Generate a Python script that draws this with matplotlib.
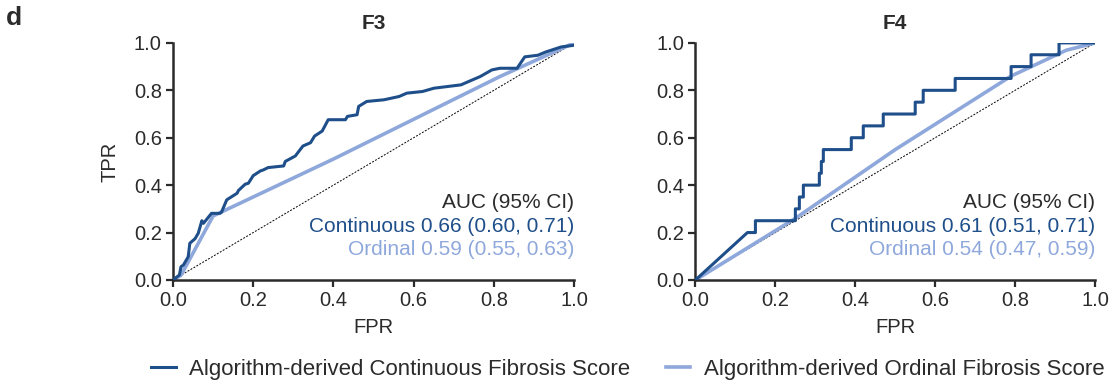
"""ROC curves for F3 / F4 detection: continuous vs ordinal fibrosis score."""

import matplotlib
matplotlib.use("Agg")
import matplotlib.pyplot as plt

plt.rcParams["font.family"] = ["Liberation Sans", "DejaVu Sans"]

DARK = "#1f4f8a"
LIGHT = "#8fa8dc"
TEXT = "#2b2b2b"

# F3 continuous
f3_cont_fpr = [0.0, 0.016, 0.02, 0.026, 0.038, 0.042, 0.055, 0.063, 0.072, 0.076,
               0.096, 0.117, 0.121, 0.134, 0.16, 0.163, 0.18, 0.188, 0.2, 0.218,
               0.225, 0.237, 0.276, 0.28, 0.305, 0.324, 0.343, 0.353, 0.372,
               0.387, 0.43, 0.435, 0.459, 0.463, 0.483, 0.526, 0.564, 0.583,
               0.622, 0.651, 0.718, 0.737, 0.766, 0.795, 0.815, 0.858, 0.877,
               0.91, 0.93, 0.968, 1.0]
f3_cont_tpr = [0.0, 0.021, 0.056, 0.063, 0.098, 0.155, 0.174, 0.197, 0.25, 0.239,
               0.281, 0.281, 0.286, 0.338, 0.366, 0.377, 0.404, 0.408, 0.44, 0.46,
               0.464, 0.474, 0.481, 0.50, 0.523, 0.565, 0.579, 0.607, 0.628,
               0.676, 0.676, 0.69, 0.697, 0.732, 0.753, 0.76, 0.774, 0.788,
               0.795, 0.809, 0.823, 0.837, 0.858, 0.886, 0.893, 0.893, 0.941,
               0.948, 0.962, 0.983, 0.99]

# F3 ordinal
f3_ord_fpr = [0.0, 0.02, 0.1, 0.4, 0.815, 1.0]
f3_ord_tpr = [0.0, 0.02, 0.27, 0.51, 0.858, 1.0]

# F4 continuous (stepped)
f4_cont_fpr = [0.0, 0.13, 0.15, 0.15, 0.25, 0.25, 0.26, 0.26, 0.27, 0.27, 0.31,
               0.31, 0.315, 0.315, 0.32, 0.32, 0.39, 0.39, 0.42, 0.42, 0.47,
               0.47, 0.55, 0.55, 0.57, 0.57, 0.65, 0.65, 0.79, 0.79, 0.84, 0.84,
               0.91, 0.91, 1.0]
f4_cont_tpr = [0.0, 0.2, 0.2, 0.25, 0.25, 0.3, 0.3, 0.35, 0.35, 0.4, 0.4, 0.45,
               0.45, 0.5, 0.5, 0.55, 0.55, 0.6, 0.6, 0.65, 0.65, 0.7, 0.7, 0.75,
               0.75, 0.8, 0.8, 0.85, 0.85, 0.9, 0.9, 0.95, 0.95, 1.0, 1.0]

# F4 ordinal
f4_ord_fpr = [0.0, 0.25, 0.5, 0.79, 0.928, 1.0]
f4_ord_tpr = [0.0, 0.26, 0.55, 0.86, 0.969, 1.0]

panels = [
    ("F3", f3_cont_fpr, f3_cont_tpr, f3_ord_fpr, f3_ord_tpr,
     "Continuous 0.66 (0.60, 0.71)", "Ordinal 0.59 (0.55, 0.63)"),
    ("F4", f4_cont_fpr, f4_cont_tpr, f4_ord_fpr, f4_ord_tpr,
     "Continuous 0.61 (0.51, 0.71)", "Ordinal 0.54 (0.47, 0.59)"),
]
ticks = [0.0, 0.2, 0.4, 0.6, 0.8, 1.0]

fig = plt.figure(figsize=(11.11, 3.83), dpi=100)
axes = [fig.add_axes([0.1557, 0.269, 0.361, 0.619]),
        fig.add_axes([0.626, 0.269, 0.3596, 0.619])]

for i, (ax, (title, cx, cy, ox, oy, ctext, otext)) in enumerate(zip(axes, panels)):
    ax.plot([0, 1], [0, 1], color="black", lw=0.7, ls=(0, (2, 1.5)), zorder=1)
    ax.plot(ox, oy, color=LIGHT, lw=2.6, zorder=2,
            label="Algorithm-derived Ordinal Fibrosis Score")
    ax.plot(cx, cy, color=DARK, lw=2.2, zorder=3,
            label="Algorithm-derived Continuous Fibrosis Score")
    ax.set_xlim(0, 1.0)
    ax.set_ylim(0, 1.0)
    ax.set_xticks(ticks)
    ax.set_yticks(ticks)
    ax.set_xticklabels([f"{t:.1f}" for t in ticks])
    ax.set_yticklabels([f"{t:.1f}" for t in ticks])
    ax.tick_params(labelsize=14.5, colors=TEXT, length=5, width=1.6, pad=3)
    for side in ("top", "right"):
        ax.spines[side].set_visible(False)
    for side in ("left", "bottom"):
        ax.spines[side].set_linewidth(1.8)
        ax.spines[side].set_color(TEXT)
    ax.set_xlabel("FPR", fontsize=14.5, color=TEXT, labelpad=6)
    if i == 0:
        ax.set_ylabel("TPR", fontsize=14.5, color=TEXT, labelpad=10)
    ax.set_title(title, fontsize=15, fontweight="bold", color=TEXT, pad=10)
    ax.text(1.0, 0.325, "AUC (95% CI)", ha="right", va="center",
            fontsize=15, color=TEXT, transform=ax.transAxes)
    ax.text(1.0, 0.225, ctext, ha="right", va="center",
            fontsize=15, color=DARK, transform=ax.transAxes)
    ax.text(1.0, 0.127, otext, ha="right", va="center",
            fontsize=15, color=LIGHT, transform=ax.transAxes)

fig.text(0.005, 0.935, "d", fontsize=19, fontweight="bold", color=TEXT)

h, l = axes[0].get_legend_handles_labels()
fig.legend([h[1], h[0]], [l[1], l[0]], loc="lower center",
           bbox_to_anchor=(0.565, -0.045), ncol=2, frameon=False, fontsize=16,
           handlelength=1.1, columnspacing=1.6, handletextpad=0.6,
           labelcolor=TEXT)

fig.savefig("out.png", dpi=100)
